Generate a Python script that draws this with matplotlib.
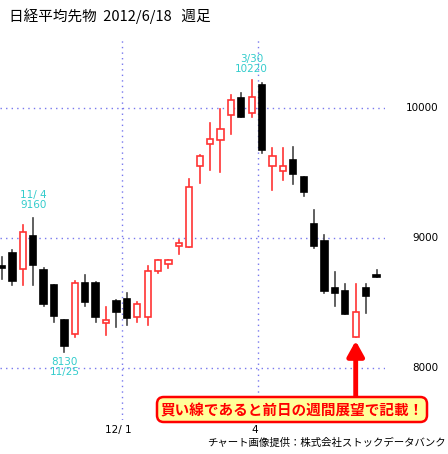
import matplotlib
matplotlib.use("Agg")
import matplotlib.pyplot as plt
from matplotlib.patches import FancyBboxPatch

plt.rcParams['font.family'] = ['Noto Sans CJK JP', 'DejaVu Sans']

opens  = [8777, 8885, 8762, 9015, 8754, 8638, 8369, 8262, 8654, 8654, 8346, 8515, 8531, 8392, 8392, 8746, 8800, 8938, 8931, 9554, 9723, 9754, 9946, 10077, 9962, 10177, 9554, 9515, 9600, 9469, 9108, 8977, 8615, 8592, 8238, 8615, 8708]
highs  = [8854, 8908, 9100, 9154, 8769, 8638, 8369, 8669, 8715, 8662, 8469, 8523, 8577, 8508, 8785, 8831, 8831, 8985, 9454, 9638, 9885, 9992, 10100, 10115, 10215, 10192, 9692, 9692, 9700, 9469, 9215, 9023, 8738, 8646, 8646, 8646, 8754]
lows   = [8685, 8638, 8638, 8638, 8477, 8354, 8123, 8238, 8477, 8354, 8254, 8315, 8331, 8354, 8331, 8731, 8769, 8877, 8931, 9423, 9523, 9508, 9800, 9931, 9931, 9654, 9369, 9446, 9415, 9323, 8923, 8577, 8477, 8415, 8238, 8423, 8700]
closes = [8770, 8669, 9046, 8792, 8492, 8400, 8169, 8654, 8508, 8392, 8369, 8431, 8385, 8492, 8746, 8831, 8831, 8962, 9392, 9631, 9762, 9838, 10062, 9931, 10085, 9677, 9631, 9554, 9492, 9354, 8938, 8592, 8577, 8415, 8431, 8554, 8700]

ytick_vals = [8000, 9000, 10000]
month_lines = [11.5, 24.6]
month_labels = ["12/ 1", "4"]

fig = plt.figure(figsize=(4.48, 4.54), dpi=100)
ax = fig.add_axes([0, 0.075, 0.859, 0.843])
ax.set_xlim(-0.19, 36.8)
ax.set_ylim(7600, 10546)
ax.axis('off')

grid_c = '#7777ee'
for v in ytick_vals:
    ax.axhline(v, color=grid_c, lw=1, ls=(0, (1, 3)))
    ax.text(1.0 + 0.14, v, str(v), transform=ax.get_yaxis_transform(), ha='right', va='center', fontsize=7.5, family='DejaVu Sans', clip_on=False)
for m, lab in zip(month_lines, month_labels):
    ax.axvline(m, color=grid_c, lw=1, ls=(0, (1, 3)))
    ax.text(m - 0.3, -0.012, lab, transform=ax.get_xaxis_transform(), ha='center', va='top', fontsize=7.5, family='DejaVu Sans', clip_on=False)

w = 0.6
for i, (o, h, l, c) in enumerate(zip(opens, highs, lows, closes)):
    up = c > o
    col = '#ff3333' if up else 'black'
    wc = '#ff3333' if up else '#444444'
    ax.plot([i, i], [l, h], color=wc, lw=1.2, zorder=2)
    bottom = min(o, c)
    height = max(abs(c - o), 15)
    ax.bar(i, height, w, bottom=bottom, color='white' if up else 'black', edgecolor=col, lw=1.2, zorder=3)

cy = '#33cccc'
ax.text(3, highs[3] + 60, "11/ 4\n9160", ha='center', va='bottom', color=cy, fontsize=7.5, family='DejaVu Sans', linespacing=1.0)
ax.text(6, lows[6] - 40, "8130\n11/25", ha='center', va='top', color=cy, fontsize=7.5, family='DejaVu Sans', linespacing=1.0)
ax.text(24, highs[24] + 50, "3/30\n10220", ha='center', va='bottom', color=cy, fontsize=7.5, family='DejaVu Sans', linespacing=1.0)

fig.text(0.02, 0.965, "日経平均先物  2012/6/18   週足", fontsize=10.5, va='center', ha='left')
fig.text(0.995, 0.024, "チャート画像提供：株式会社ストックデータバンク", fontsize=7.5, va='center', ha='right')

ax.annotate('', xy=(34, 8230), xytext=(34, 7700),
            arrowprops=dict(arrowstyle='-|>,head_width=0.5,head_length=0.9', color='#ff0000', lw=3.5), zorder=5)
box = FancyBboxPatch((157/448, 1 - 422/454), 270/448, 25/454, boxstyle='round,pad=0,rounding_size=0.015',
                     transform=fig.transFigure, facecolor='#ffff99', edgecolor='#ff0000', lw=1.8, zorder=6)
fig.patches.append(box)
fig.text(292/448, 1 - 410/454, "買い線であると前日の週間展望で記載！", color='#ff0000', fontsize=10.5,
         fontweight='bold', ha='center', va='center', zorder=7)

fig.savefig('out.png', dpi=100)
